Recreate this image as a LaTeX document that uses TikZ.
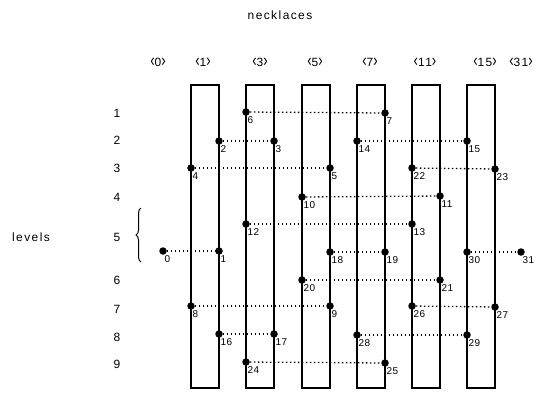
\documentclass[tikz,border=0pt]{standalone}
\usepackage{fontspec}
\setmainfont{Liberation Sans}
\newfontfamily\spaced[LetterSpace=12]{Liberation Sans}
\newfontfamily\numspaced[LetterSpace=4]{Liberation Sans}
\usetikzlibrary{decorations.pathreplacing}
\newcommand\neckl[1]{\scalebox{1.1}[1.5]{‹}#1\scalebox{1.1}[1.5]{›}}
\begin{document}
\begin{tikzpicture}[x=1bp,y=-1bp,
  necklace/.style={draw, line width=1.4bp, minimum width=28bp, minimum height=303bp, inner sep=0},
  dot/.style={circle, fill, inner sep=0, minimum size=7.5bp},
  lab/.style={anchor=north west, inner sep=0.5bp, font=\numspaced\fontsize{10}{10}\selectfont},
  big/.style={font=\spaced\fontsize{12}{12}\selectfont, inner sep=0},
  link/.style={line width=1.3bp, dash pattern=on 1.4bp off 2.6bp}]
\useasboundingbox (0,0) rectangle (545,394);
% title and column labels
\node[big] (title) at (280,15) {necklaces};
\node[big] (c0) at (158,62) {\neckl{0}};
\node[big] (c1) at (203,62) {\neckl{1}};
\node[big] (c3) at (260,62) {\neckl{3}};
\node[big] (c5) at (315,62) {\neckl{5}};
\node[big] (c7) at (370,62) {\neckl{7}};
\node[big] (c11) at (425,62) {\neckl{11}};
\node[big] (c15) at (485,62) {\neckl{15}};
\node[big] (c31) at (521,62) {\neckl{31}};
% level labels
\node[big] (levels) at (31,237) {levels};
\node[big] (l1) at (117,113) {1};
\node[big] (l2) at (117,140) {2};
\node[big] (l3) at (117,168) {3};
\node[big] (l4) at (117,197) {4};
\node[big] (l5) at (117,237) {5};
\node[big] (l6) at (117,280) {6};
\node[big] (l7) at (117,309) {7};
\node[big] (l8) at (117,337) {8};
\node[big] (l9) at (117,364) {9};
\draw[decorate, decoration={brace, amplitude=5bp}, line width=1bp] (141,262) -- (141,208);
% necklace boxes
\node[necklace] (b1) at (205,236.5) {};
\node[necklace] (b3) at (260,236.5) {};
\node[necklace] (b5) at (316,236.5) {};
\node[necklace] (b7) at (371,236.5) {};
\node[necklace] (b11) at (426,236.5) {};
\node[necklace] (b15) at (481,236.5) {};
% dots
\foreach \n/\x/\y in {
  6/246/112, 7/385/113,
  2/219/141, 3/274/141, 14/357/141, 15/467/141,
  4/191/168, 5/330/168, 22/412/168, 23/495/169,
  10/302/197, 11/440/196,
  12/246/224, 13/412/224,
  0/163/251, 1/219/251, 18/330/252, 19/385/252, 30/467/252, 31/521/252,
  20/302/280, 21/440/280,
  8/191/306, 9/330/306, 26/412/306, 27/495/307,
  16/219/334, 17/274/334, 28/357/335, 29/467/335,
  24/246/362, 25/385/363}{
  \node[dot] (n\n) at (\x,\y) {};
  \node[lab] (t\n) at (\x+1,\y+4) {\n};
}
% links
\foreach \a/\b in {6/7, 2/3, 14/15, 4/5, 22/23, 10/11, 12/13, 0/1, 18/19, 30/31,
  20/21, 8/9, 26/27, 16/17, 28/29, 24/25}{
  \draw[link] (n\a) -- (n\b);
}
\end{tikzpicture}
\end{document}
